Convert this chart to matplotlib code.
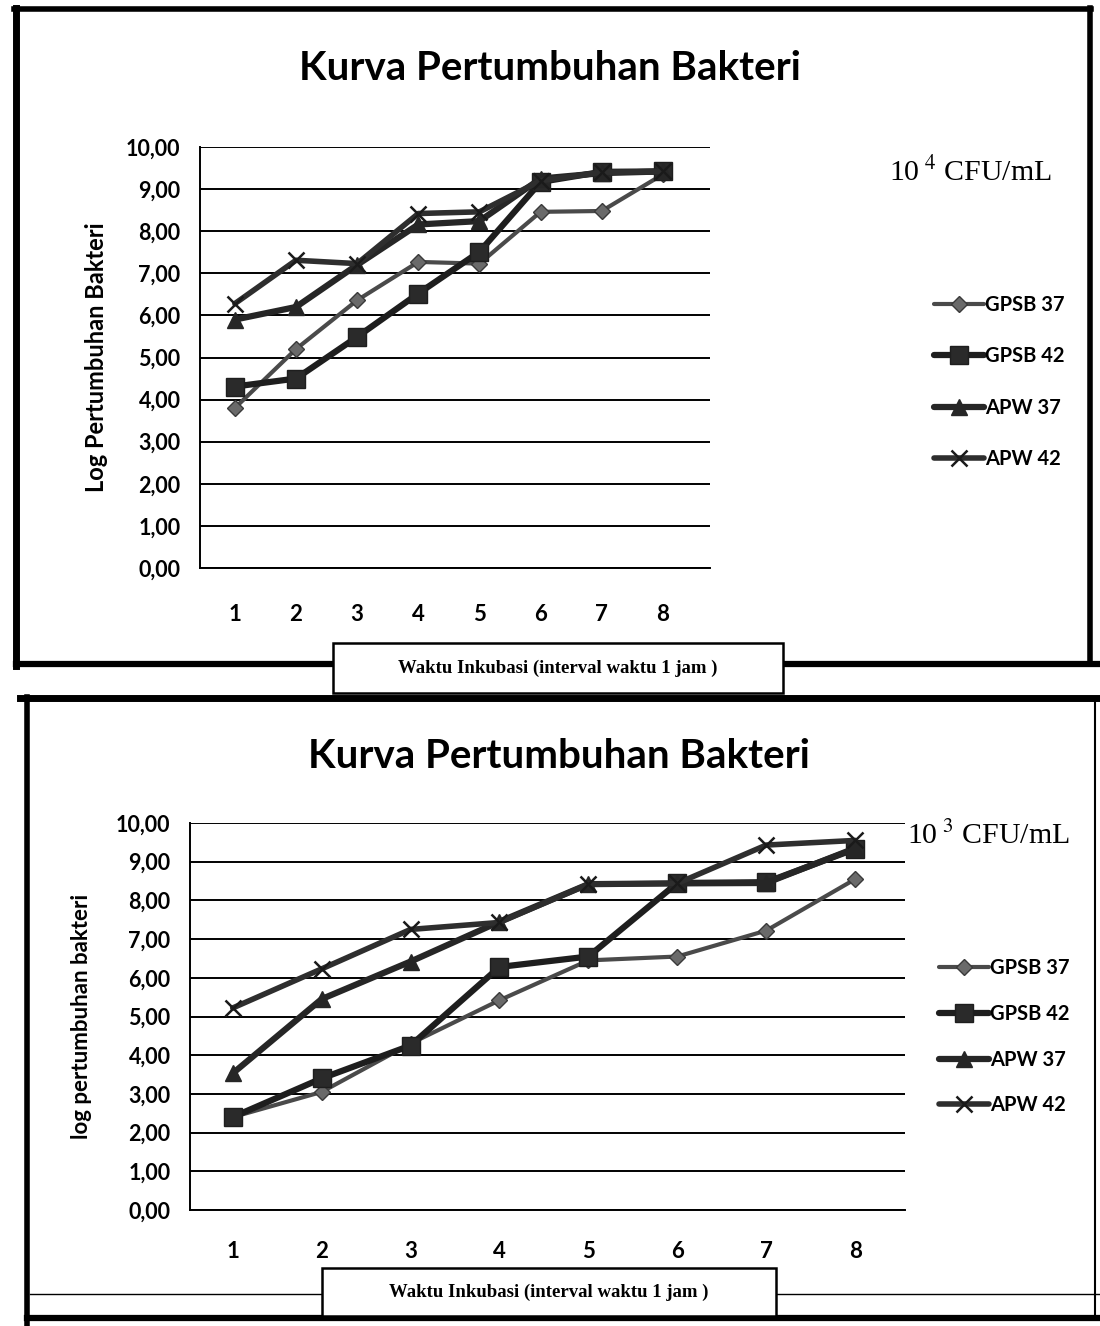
import matplotlib
matplotlib.use("Agg")
import matplotlib.pyplot as plt
from matplotlib.patches import Rectangle
from matplotlib.ticker import FuncFormatter

plt.rcParams["font.family"] = ["Lato", "DejaVu Sans"]
plt.rcParams["mathtext.fontset"] = "stix"

# incubation hour index
hours = [1, 2, 3, 4, 5, 6, 7, 8]
series_names = ["GPSB 37", "GPSB 42", "APW 37", "APW 42"]

# 10^4 CFU/mL inoculum (log count)
gpsb37_e4 = [3.80, 5.20, 6.36, 7.27, 7.23, 8.46, 8.48, 9.35]
gpsb42_e4 = [4.31, 4.50, 5.49, 6.52, 7.51, 9.17, 9.41, 9.42]
apw37_e4 = [5.90, 6.20, 7.20, 8.16, 8.24, 9.25, 9.38, 9.42]
apw42_e4 = [6.28, 7.31, 7.23, 8.42, 8.46, 9.20, 9.40, 9.42]

# 10^3 CFU/mL inoculum (log count)
gpsb37_e3 = [2.40, 3.05, 4.30, 5.42, 6.45, 6.55, 7.22, 8.55]
gpsb42_e3 = [2.40, 3.40, 4.25, 6.28, 6.55, 8.45, 8.47, 9.33]
apw37_e3 = [3.53, 5.45, 6.42, 7.45, 8.42, 8.44, 8.45, 9.35]
apw42_e3 = [5.22, 6.23, 7.25, 7.43, 8.42, 8.44, 9.43, 9.55]

W, H = 1100, 1326
fig = plt.figure(figsize=(W / 100, H / 100), dpi=100)
fig.patch.set_facecolor("white")

# full-figure overlay in pixel coordinates for frames and captions
deco = fig.add_axes([0, 0, 1, 1], zorder=0)
deco.set_xlim(0, W)
deco.set_ylim(H, 0)
deco.axis("off")

styles = [
    dict(marker="D", ms=8, color="#4a4a4a", lw=3.0, mfc="#6a6a6a", mec="#3a3a3a"),
    dict(marker="s", ms=13, color="#1e1e1e", lw=4.5, mfc="#2a2a2a", mec="#1e1e1e"),
    dict(marker="^", ms=11, color="#262626", lw=4.5, mfc="#262626", mec="#262626"),
    dict(marker="x", ms=12, color="#2e2e2e", lw=4.0, mew=1.8, mec="#1a1a1a"),
]


def px_axes(left, top, right, bottom):
    return fig.add_axes([left / W, 1 - bottom / H, (right - left) / W, (bottom - top) / H], zorder=2)


def draw_panel(ax, data, x_lo, x_hi, ylabel, ylabel_size, ylabel_pad, xpad, legend_xy, legend_space):
    ax.set_facecolor("none")
    for vals, name, st in zip(data, series_names, styles):
        ax.plot(hours, vals, label=name, solid_joinstyle="round", solid_capstyle="round", **st)
    ax.set_xlim(x_lo, x_hi)
    ax.set_ylim(0, 10)
    ax.set_yticks(range(0, 11))
    ax.yaxis.set_major_formatter(FuncFormatter(lambda v, p: f"{v:.2f}".replace(".", ",")))
    ax.set_xticks(hours)
    ax.grid(axis="y", color="black", lw=1.4)
    ax.set_axisbelow(True)
    for s in ["top", "right"]:
        ax.spines[s].set_visible(False)
    ax.spines["left"].set_linewidth(1.4)
    ax.spines["bottom"].set_linewidth(1.4)
    ax.tick_params(axis="y", length=0, labelsize=15.5, pad=14)
    ax.tick_params(axis="x", length=0, labelsize=16, pad=xpad)
    for lab in ax.get_xticklabels() + ax.get_yticklabels():
        lab.set_fontweight("bold")
    ax.set_ylabel(ylabel, fontsize=ylabel_size, fontweight="bold", labelpad=ylabel_pad)
    ax.legend(loc="upper left", bbox_to_anchor=(legend_xy[0] / W, 1 - legend_xy[1] / H),
              bbox_transform=fig.transFigure, frameon=False,
              handlelength=2.5, handletextpad=0.05, labelspacing=legend_space,
              prop={"weight": "bold", "size": 14.5})


def label_box(x0, y0, x1, y1):
    deco.add_patch(Rectangle((x0, y0), x1 - x0, y1 - y0, fc="white", ec="black", lw=1.8, zorder=5))
    deco.text((x0 + x1) / 2, (y0 + y1) / 2, "Waktu Inkubasi (interval waktu 1 jam )",
              ha="center", va="center", fontsize=13.5, fontweight="bold",
              family=["Liberation Serif", "DejaVu Serif"], zorder=6)


# ---- upper panel frame ----
deco.plot([16, 16], [8, 666], color="black", lw=5)
deco.plot([14, 1091], [9, 9], color="black", lw=4)
deco.plot([1090, 1090], [8, 664], color="black", lw=4)
deco.plot([16, 1100], [664, 664], color="black", lw=4.5)
label_box(333, 643, 783, 693)

# ---- lower panel frame ----
deco.plot([20, 1100], [698, 698], color="black", lw=5)
deco.plot([27, 27], [697, 1326], color="black", lw=4)
deco.plot([1095, 1095], [700, 1318], color="black", lw=1.5)
deco.plot([27, 1100], [1318, 1318], color="black", lw=4.5)
deco.plot([30, 1100], [1294, 1294], color="black", lw=1.0)
label_box(322, 1268, 776, 1316)

# titles and inoculum captions
deco.text(550, 68, "Kurva Pertumbuhan Bakteri", ha="center", va="center",
          fontsize=29, fontweight="bold")
deco.text(559, 756, "Kurva Pertumbuhan Bakteri", ha="center", va="center",
          fontsize=29, fontweight="bold")
deco.text(889, 172, r"10$^{\ 4}$ CFU/mL", ha="left", va="center", fontsize=21.5,
          family=["Liberation Serif", "DejaVu Serif"])
deco.text(907, 836, r"10$^{\ 3}$ CFU/mL", ha="left", va="center", fontsize=21.5,
          family=["Liberation Serif", "DejaVu Serif"])

ax1 = px_axes(200, 147, 710, 568)
draw_panel(ax1, [gpsb37_e4, gpsb42_e4, apw37_e4, apw42_e4], 0.43, 8.77,
           "Log Pertumbuhan Bakteri", 17, 13, 26, (916, 277), 1.55)

ax2 = px_axes(190, 823, 905, 1210)
draw_panel(ax2, [gpsb37_e3, gpsb42_e3, apw37_e3, apw42_e3], 0.52, 8.56,
           "log pertumbuhan bakteri", 16, 17, 22, (921, 940), 1.28)

fig.savefig("out.png", dpi=100, facecolor="white")
